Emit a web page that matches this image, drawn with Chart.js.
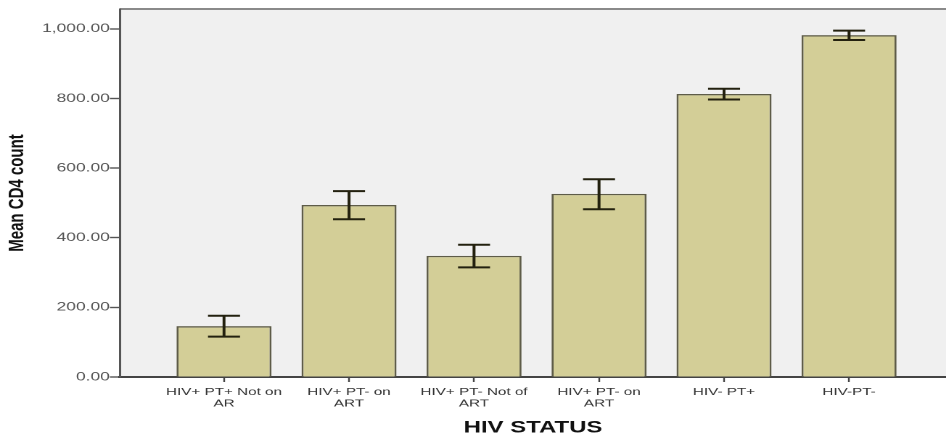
<!DOCTYPE html>
<html>
<head>
<meta charset="utf-8">
<script src="https://cdn.jsdelivr.net/npm/chart.js@4/dist/chart.umd.min.js"></script>
<style>
  html, body { margin: 0; padding: 0; background: #ffffff; overflow: hidden; }
  /* the chart is laid out narrow and widened horizontally */
  #wrap { width: 652px; height: 436px; transform: scaleX(1.451); transform-origin: 0 0; }
  canvas { display: block; }
</style>
</head>
<body>
<div id="wrap"><canvas id="c" width="652" height="436"></canvas></div>
<script>
// HIV status groups (x axis)
const categories = [
  ['HIV+ PT+ Not on', 'AR'],
  ['HIV+ PT- on', 'ART'],
  ['HIV+ PT- Not of', 'ART'],
  ['HIV+ PT- on', 'ART'],
  ['HIV- PT+'],
  ['HIV-PT-']
];
// mean CD4 count per group
const meanCD4 = [146, 494, 348, 526, 813, 982];
// error bar limits
const errLow  = [116, 453, 315, 482, 797, 968];
const errHigh = [176, 534, 380, 568, 828, 995];
// y axis tick values
const yTicks = [0, 200, 400, 600, 800, 1000];

const SX = 1.451;          // horizontal widening of the page
const plotBg = '#f0f0f0';
const barFill = '#d3ce97';
const barEdge = '#5e5c48';

// plot background and top frame line
const frame = {
  id: 'frame',
  beforeDraw(chart) {
    const { ctx, chartArea: a } = chart;
    ctx.save();
    ctx.fillStyle = plotBg;
    ctx.fillRect(a.left, a.top, a.right - a.left, a.bottom - a.top);
    ctx.strokeStyle = '#8a8a8a';
    ctx.lineWidth = 2;
    ctx.beginPath();
    ctx.moveTo(a.left, a.top);
    ctx.lineTo(a.right, a.top);
    ctx.stroke();
    ctx.restore();
  }
};

// error bars with caps
const errorBars = {
  id: 'errorBars',
  afterDatasetsDraw(chart) {
    const { ctx, scales: { x, y } } = chart;
    const cap = 32 / SX;   // cap width in layout px
    ctx.save();
    ctx.strokeStyle = '#23210f';
    ctx.lineWidth = 2;
    ctx.lineCap = 'butt';
    meanCD4.forEach((_, i) => {
      const px = x.getPixelForValue(i);
      const yl = y.getPixelForValue(errLow[i]);
      const yh = y.getPixelForValue(errHigh[i]);
      ctx.beginPath();
      ctx.moveTo(px, yh); ctx.lineTo(px, yl);
      ctx.moveTo(px - cap / 2, yh); ctx.lineTo(px + cap / 2, yh);
      ctx.moveTo(px - cap / 2, yl); ctx.lineTo(px + cap / 2, yl);
      ctx.stroke();
    });
    ctx.restore();
  }
};

new Chart(document.getElementById('c'), {
  type: 'bar',
  data: {
    datasets: [{
      data: meanCD4.map((v, i) => ({ x: i, y: v })),
      backgroundColor: barFill,
      borderColor: barEdge,
      borderWidth: 1.4,
      borderSkipped: 'bottom',
      barPercentage: 0.76,
      categoryPercentage: 1
    }]
  },
  options: {
    responsive: false,
    devicePixelRatio: 2,
    animation: false,
    layout: { padding: { top: 9, right: 0, bottom: 0, left: 0 } },
    plugins: { legend: { display: false }, tooltip: { enabled: false } },
    scales: {
      x: {
        type: 'linear',
        offset: false,
        min: -0.832,
        max: 5.776,
        afterBuildTicks(scale) { scale.ticks = categories.map((_, i) => ({ value: i })); },
        afterFit(scale) { scale.height = 59; },
        grid: { display: true, offset: false, drawOnChartArea: false, drawTicks: true, tickLength: 5, tickColor: '#444', tickWidth: 1.2 },
        border: { display: true, color: '#444', width: 2 },
        ticks: {
          autoSkip: false,
          maxRotation: 0,
          padding: 4,
          color: '#333',
          font: { family: 'Liberation Sans, Arial, sans-serif', size: 10.5, lineHeight: 1.12 },
          callback: (v) => categories[v]
        },
        title: {
          display: true,
          text: 'HIV STATUS',
          color: '#111',
          padding: { top: 0, bottom: -2 },
          font: { family: 'Liberation Sans, Arial, sans-serif', size: 16.5, weight: 'bold' }
        }
      },
      y: {
        min: 0,
        max: 1057,
        afterBuildTicks(scale) { scale.ticks = yTicks.map(v => ({ value: v })); },
        afterFit(scale) { scale.width = 120 / SX; },
        grid: { display: true, drawOnChartArea: false, drawTicks: true, tickLength: 7, tickColor: '#555', tickWidth: 1.4 },
        border: { display: true, color: '#555', width: 1.5 },
        ticks: {
          padding: 0,
          color: '#555',
          font: { family: 'Liberation Sans, Arial, sans-serif', size: 12 },
          callback: (v) => v.toLocaleString('en-US', { minimumFractionDigits: 2, maximumFractionDigits: 2 })
        },
        title: {
          display: true,
          text: 'Mean CD4 count',
          color: '#111',
          padding: { top: 3, bottom: 0 },
          font: { family: 'Liberation Sans, Arial, sans-serif', size: 15, weight: 'bold' }
        }
      }
    }
  },
  plugins: [frame, errorBars]
});
</script>
</body>
</html>
